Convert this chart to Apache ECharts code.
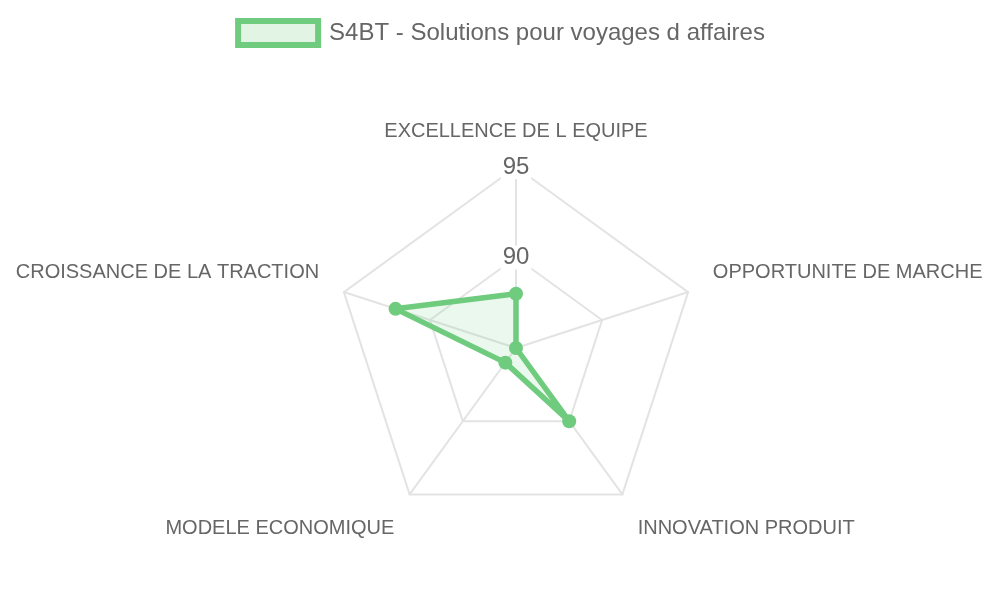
<!DOCTYPE html>
<html>
<head>
<meta charset="utf-8">
<script src="https://cdn.jsdelivr.net/npm/echarts@6/dist/echarts.min.js"></script>
<style>html,body{margin:0;padding:0;background:#fff}#c{width:1000px;height:600px}</style>
</head>
<body>
<div id="c"></div>
<script>
// Indicators in drawing order (counter-clockwise from top)
var categories = ['EXCELLENCE DE L EQUIPE', 'CROISSANCE DE LA TRACTION', 'MODELE ECONOMIQUE', 'INNOVATION PRODUIT', 'OPPORTUNITE DE MARCHE'];
var labelPlace = ['top', 'side', 'bot', 'bot', 'side'];
var values = [88, 92, 86, 90, 85];
var seriesName = 'S4BT - Solutions pour voyages d affaires';
var scaleMin = 85, scaleMax = 95, scaleStep = 5;

var green = 'rgb(111,203,125)';
var greenFill = 'rgba(111,203,125,0.2)';
var font = '"Liberation Sans", Arial, Helvetica, sans-serif';

var indicators = categories.map(function (c, i) {
  var o = { name: c, min: scaleMin, max: scaleMax };
  if (i === 0) {
    o.axisLabel = {
      show: true, showMinLabel: false, margin: 0,
      align: 'center', verticalAlign: 'middle',
      color: '#666', fontSize: 24, fontFamily: font,
      backgroundColor: '#fff', padding: [0, 2]
    };
  }
  return o;
});

var chart = echarts.init(document.getElementById('c'));
chart.setOption({
  animation: false,
  legend: {
    top: 13, left: 'center',
    icon: 'rect', itemWidth: 80, itemHeight: 24,
    itemStyle: { color: greenFill, borderColor: green, borderWidth: 6 },
    textStyle: { color: '#666', fontSize: 24, fontFamily: font, padding: [0, 0, 0, 6] },
    data: [seriesName]
  },
  radar: {
    center: [516, 348], radius: 181, startAngle: 90,
    splitNumber: (scaleMax - scaleMin) / scaleStep,
    shape: 'polygon',
    indicator: indicators,
    nameGap: 26,
    axisName: {
      color: '#666', fontSize: 20, fontFamily: font,
      formatter: function (v, ind) {
        var idx = categories.indexOf(v);
        return '{' + labelPlace[idx] + '|' + v + '}';
      },
      rich: {
        top: { color: '#666', fontSize: 20, fontFamily: font },
        side: { color: '#666', fontSize: 20, fontFamily: font, padding: [0, 0, 24, 0] },
        bot: { color: '#666', fontSize: 20, fontFamily: font, padding: [26, 0, 0, 0] }
      }
    },
    axisLabel: { show: false },
    axisTick: { show: false },
    axisLine: { lineStyle: { color: '#e3e3e3', width: 2 } },
    splitLine: { lineStyle: { color: '#e3e3e3', width: 2 } },
    splitArea: { show: false }
  },
  series: [{
    type: 'radar',
    name: seriesName,
    symbol: 'circle', symbolSize: 14,
    lineStyle: { color: green, width: 5.5 },
    itemStyle: { color: green },
    areaStyle: { color: greenFill },
    data: [{ value: values, name: seriesName }]
  }]
});
</script>
</body>
</html>
